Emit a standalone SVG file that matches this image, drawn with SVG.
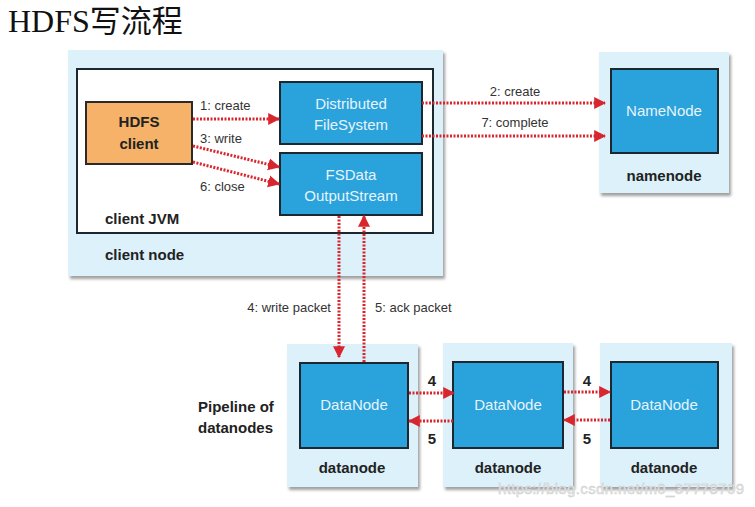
<svg xmlns="http://www.w3.org/2000/svg" width="755" height="507" viewBox="0 0 755 507">
<style>
.panel{fill:#dcf1fa;filter:url(#sh)}
.blue{fill:#2aa2dc;stroke:#1d2730;stroke-width:2}
.wt{font-family:"Liberation Sans Narrow","Liberation Sans",sans-serif;font-size:15px;fill:#e6f4fb;text-anchor:middle}
.bt{font-family:"Liberation Sans Narrow","Liberation Sans",sans-serif;font-size:15px;font-weight:bold;fill:#222}
.lbl{font-family:"Liberation Sans Narrow","Liberation Sans",sans-serif;font-size:13px;fill:#333}
.conn{stroke:#d8262e;stroke-width:3;stroke-dasharray:2 1.5;fill:none;marker-end:url(#ah)}
</style>
<defs>
<filter id="sh" x="-10%" y="-10%" width="130%" height="130%">
<feDropShadow dx="2" dy="3" stdDeviation="1.5" flood-color="#777" flood-opacity="0.7"/>
</filter>
<marker id="ah" viewBox="0 0 10 10" refX="9" refY="5" markerWidth="4" markerHeight="4.4" orient="auto" markerUnits="strokeWidth">
<path d="M0,0 L10,5 L0,10 z" fill="#d8262e"/>
</marker>
</defs>
<rect width="755" height="507" fill="#fff"/>
<text x="8" y="32" font-family="'Liberation Serif','Noto Sans CJK SC',serif" font-size="32" fill="#111">HDFS<tspan font-family="'Noto Sans CJK SC',sans-serif" font-size="31">写流程</tspan></text>

<g id="client-node">
<rect class="panel" x="68" y="50" width="375" height="226"/>
<text class="bt" x="105" y="260">client node</text>
</g>
<g id="client-jvm">
<rect x="77" y="69" width="356" height="164" fill="#fff" stroke="#1d2730" stroke-width="2"/>
<text class="bt" x="105" y="224">client JVM</text>
</g>
<g id="hdfs-client">
<rect x="86" y="102" width="106" height="62" fill="#f5b268" stroke="#2a2a2a" stroke-width="2"/>
<text class="bt" x="139" y="127" text-anchor="middle">HDFS</text>
<text class="bt" x="139" y="149" text-anchor="middle">client</text>
</g>
<g id="dfs">
<rect class="blue" x="280" y="82" width="142" height="62"/>
<text class="wt" x="351" y="109">Distributed</text>
<text class="wt" x="351" y="130">FileSystem</text>
</g>
<g id="fsdos">
<rect class="blue" x="280" y="153" width="142" height="62"/>
<text class="wt" x="351" y="180">FSData</text>
<text class="wt" x="351" y="201">OutputStream</text>
</g>

<g id="namenode">
<rect class="panel" x="599" y="52" width="130" height="141"/>
<rect class="blue" x="611" y="69" width="107" height="84"/>
<text class="wt" x="664" y="116">NameNode</text>
<text class="bt" x="664" y="181" text-anchor="middle">namenode</text>
</g>

<g id="datanode1">
<rect class="panel" x="287" y="344" width="131" height="143"/>
<rect class="blue" x="300" y="363" width="108" height="85"/>
<text class="wt" x="354" y="410">DataNode</text>
<text class="bt" x="352" y="473" text-anchor="middle">datanode</text>
</g>
<g id="datanode2">
<rect class="panel" x="443" y="343" width="130" height="144"/>
<rect class="blue" x="453" y="362" width="110" height="86"/>
<text class="wt" x="508" y="410">DataNode</text>
<text class="bt" x="508" y="473" text-anchor="middle">datanode</text>
</g>
<g id="datanode3">
<rect class="panel" x="600" y="343" width="132" height="144"/>
<rect class="blue" x="611" y="362" width="107" height="86"/>
<text class="wt" x="664" y="410">DataNode</text>
<text class="bt" x="664" y="473" text-anchor="middle">datanode</text>
</g>

<g id="pipeline-label">
<text class="bt" x="198" y="412">Pipeline of</text>
<text class="bt" x="198" y="433">datanodes</text>
</g>

<g id="connectors">
<path class="conn" d="M193,119 H279"/>
<path class="conn" d="M193,146 L279,167"/>
<path class="conn" d="M193,162 L279,184"/>
<path class="conn" d="M422,103 H605"/>
<path class="conn" d="M422,136 H605"/>
<path class="conn" d="M339,216 V357"/>
<path class="conn" d="M364,362 V216"/>
<path class="conn" d="M409,393 H454"/>
<path class="conn" d="M453,421 H409"/>
<path class="conn" d="M564,392 H610"/>
<path class="conn" d="M610,420 H564"/>
<text class="lbl" x="200" y="110">1: create</text>
<text class="lbl" x="200" y="143">3: write</text>
<text class="lbl" x="200" y="191">6: close</text>
<text class="lbl" x="515" y="96" text-anchor="middle">2: create</text>
<text class="lbl" x="515" y="127" text-anchor="middle">7: complete</text>
<text class="lbl" x="331" y="312" text-anchor="end">4: write packet</text>
<text class="lbl" x="375" y="312">5: ack packet</text>
<text class="bt" x="432" y="386" text-anchor="middle">4</text>
<text class="bt" x="432" y="444" text-anchor="middle">5</text>
<text class="bt" x="587" y="386" text-anchor="middle">4</text>
<text class="bt" x="587" y="444" text-anchor="middle">5</text>
</g>

<text x="498" y="494" font-family="'Liberation Sans',sans-serif" font-size="15" fill="#e8e8e8" stroke="#c8c8c8" stroke-width="0.4" textLength="246">https://blog.csdn.net/m0_37778709</text>
</svg>
